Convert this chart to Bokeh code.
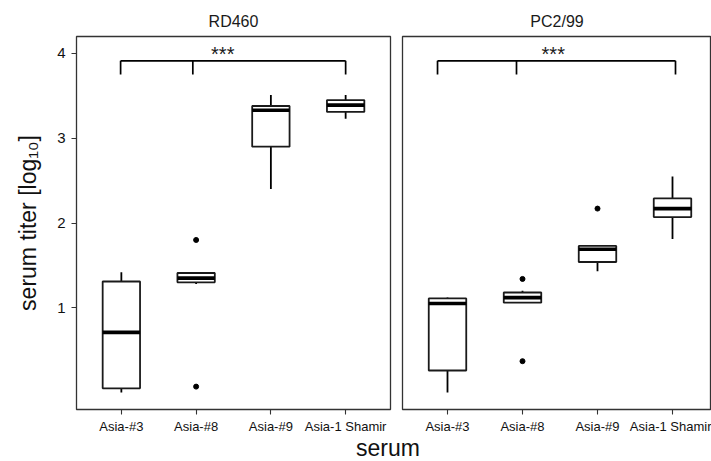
from bokeh.plotting import figure
from bokeh.models import Range1d, FixedTicker, Div, ColumnDataSource
from bokeh.layouts import row, column
from bokeh.embed import file_html
from bokeh.resources import INLINE
from bokeh.core.properties import value

# ---------------- data ----------------
categories = ["Asia-#3", "Asia-#8", "Asia-#9", "Asia-1 Shamir"]
panel_titles = ["RD460", "PC2/99"]

# box statistics per panel (lower whisker, Q1, median, Q3, upper whisker)
rd460_lower = [0.00, 1.28, 2.40, 3.23]
rd460_q1 = [0.05, 1.30, 2.90, 3.31]
rd460_median = [0.71, 1.35, 3.33, 3.39]
rd460_q3 = [1.31, 1.41, 3.38, 3.45]
rd460_upper = [1.42, 1.42, 3.51, 3.51]
rd460_out_cat = ["Asia-#8", "Asia-#8"]
rd460_out_val = [1.80, 0.07]

pc299_lower = [0.00, 1.06, 1.43, 1.81]
pc299_q1 = [0.26, 1.06, 1.54, 2.07]
pc299_median = [1.05, 1.12, 1.69, 2.17]
pc299_q3 = [1.11, 1.18, 1.73, 2.29]
pc299_upper = [1.12, 1.20, 1.73, 2.55]
pc299_out_cat = ["Asia-#8", "Asia-#8", "Asia-#9"]
pc299_out_val = [1.34, 0.37, 2.17]

# significance bracket (x in category units, y in log10 titer)
rd460_bracket_x = [0.99, 1.956, 4.00]
pc299_bracket_x = [0.867, 1.92, 4.04]
bracket_top = 3.913
bracket_bottom = 3.752
rd460_star_x = 2.356
pc299_star_x = 2.41
star_y = 3.995
star_label = "***"

y_ticks = [1, 2, 3, 4]

FONT = "Liberation Sans"
BOX_HALF = 0.25


def make_panel(title, lower, q1, med, q3, upper, out_cat, out_val,
               br_x, star_x, width, x_end, first):
    kw = dict(width=width, height=436, output_backend="svg",
              toolbar_location=None, x_range=Range1d(0.4, x_end),
              y_range=Range1d(-0.2, 4.2), title=title,
              min_border_top=36, min_border_bottom=27,
              min_border_left=76 if first else 6,
              min_border_right=6 if first else 0)
    if not first:
        kw["y_axis_location"] = None
    p = figure(**kw)
    p.background_fill_color = "white"
    p.border_fill_color = "white"
    p.outline_line_color = "#333333"
    p.outline_line_width = 1.3
    p.grid.visible = False

    p.title.align = "center"
    p.title.text_font = FONT
    p.title.text_font_size = "16px"
    p.title.text_font_style = "normal"
    p.title.text_color = "#1a1a1a"
    p.title.standoff = 13

    pos = [categories.index(c) + 1 for c in categories]
    src = ColumnDataSource(dict(
        x=pos, lower=lower, q1=q1, med=med, q3=q3, upper=upper,
        x0=[x - BOX_HALF for x in pos], x1=[x + BOX_HALF for x in pos]))
    p.segment(x0="x", y0="q3", x1="x", y1="upper", source=src,
              line_color="black", line_width=1.8)
    p.segment(x0="x", y0="q1", x1="x", y1="lower", source=src,
              line_color="black", line_width=1.8)
    p.vbar(x="x", width=2 * BOX_HALF, bottom="q1", top="q3", source=src,
           fill_color="white", line_color="#1a1a1a", line_width=1.8)
    p.segment(x0="x0", y0="med", x1="x1", y1="med", source=src,
              line_color="black", line_width=3.6)
    ox = [categories.index(c) + 1 for c in out_cat]
    p.scatter(ox, out_val, size=5, color="black")

    # bracket
    p.segment(x0=[br_x[0]], y0=[bracket_top], x1=[br_x[-1]], y1=[bracket_top],
              line_color="black", line_width=1.7)
    p.segment(x0=br_x, y0=[bracket_top] * len(br_x), x1=br_x,
              y1=[bracket_bottom] * len(br_x), line_color="black", line_width=1.7)
    p.text(x=[star_x], y=[star_y], text=[star_label],
           text_font=value(FONT), text_font_size="20px",
           text_align="center", text_baseline="alphabetic", text_color="#1a1a1a")

    xa = p.xaxis[0]
    xa.ticker = FixedTicker(ticks=pos)
    xa.major_label_overrides = {x: c for x, c in zip(pos, categories)}
    xa.axis_line_color = None
    xa.major_tick_out = 5
    xa.major_tick_in = 0
    xa.minor_tick_line_color = None
    xa.major_tick_line_color = "#333333"
    xa.major_tick_line_width = 1.1
    xa.major_label_standoff = 4
    xa.major_label_text_font = FONT
    xa.major_label_text_font_size = "13px"
    xa.major_label_text_color = "#111111"

    if first:
        ya = p.yaxis[0]
        ya.ticker = FixedTicker(ticks=y_ticks)
        ya.axis_line_color = None
        ya.major_tick_out = 5
        ya.major_tick_in = 0
        ya.minor_tick_line_color = None
        ya.major_tick_line_color = "#333333"
        ya.major_tick_line_width = 1.1
        ya.major_label_standoff = 6
        ya.major_label_text_font = FONT
        ya.major_label_text_font_size = "15px"
        ya.major_label_text_color = "#111111"
        ya.axis_label = "serum titer [log\u2081\u2080]"
        ya.axis_label_text_font = FONT
        ya.axis_label_text_font_size = "23px"
        ya.axis_label_text_font_style = "normal"
        ya.axis_label_text_color = "#111111"
        ya.axis_label_standoff = 13
    return p


p1 = make_panel(panel_titles[0], rd460_lower, rd460_q1, rd460_median, rd460_q3,
                rd460_upper, rd460_out_cat, rd460_out_val, rd460_bracket_x,
                rd460_star_x, 396, 4.6, True)
p2 = make_panel(panel_titles[1], pc299_lower, pc299_q1, pc299_median, pc299_q3,
                pc299_upper, pc299_out_cat, pc299_out_val, pc299_bracket_x,
                pc299_star_x, 315, 0.4 + 309 / 75.0, False)

xlabel = Div(text="<div style=\"font: 23px/25px 'Liberation Sans'; color:#111111; "
                  "text-align:center; white-space:nowrap\">serum</div>",
             width=80, height=25, margin=(0, 0, 0, 356))

layout = column(row(p1, p2), xlabel)

open("out.html", "w").write(file_html(layout, INLINE))
